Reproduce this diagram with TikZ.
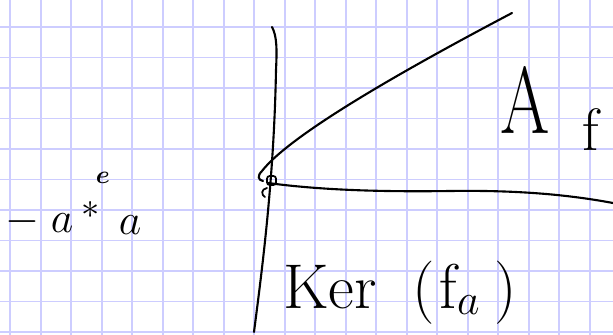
\documentclass[tikz,border=0pt]{standalone}
\usepackage{amsmath}
\usepackage{xcolor}
\usepackage{tikz}
\usetikzlibrary{positioning,calc}

\definecolor{gridblue}{RGB}{205,205,255}

\begin{document}
\begin{tikzpicture}[
    x=0.02cm, y=-0.02cm,
    gridline/.style={draw=gridblue, line width=1pt},
    pen/.style={draw=black, line width=1.2pt, line cap=round, line join=round},
    hand/.style={inner sep=0pt, text=black}
]
\useasboundingbox (0,0) rectangle (613,335);
\fill[white] (0,0) rectangle (613,335);

% Grid paper
\begin{scope}
\clip (0,0) rectangle (613,335);
\foreach \k in {0,...,19}
    \draw[gridline] ({10.3+30.5*\k},0) -- ({10.3+30.5*\k},335);
\foreach \k in {0,...,10}
    \draw[gridline] (0,{27+30.5*\k}) -- (613,{27+30.5*\k});
\end{scope}

% Vertical axis
\draw[pen] (272,27) .. controls (277,36) and (277,50) .. (276,70)
    .. controls (274,180) and (262,270) .. (254,332);

% Upper branch
\draw[pen] (512,13) .. controls (400,72) and (290,135) .. (262,171)
    .. controls (257,176) and (258,180) .. (263,181);

% Lower branch
\draw[pen] (268,183) .. controls (320,190) and (380,192) .. (450,191)
    .. controls (520,190) and (570,195) .. (613,203);

% Marks at the vertex
\draw[pen, line width=1pt, rounded corners=1.5pt] (267,176) rectangle (276,185);
\draw[pen, line width=1pt] (267,188) .. controls (261,189) and (261,195) .. (265,197);

% Labels
\node[hand, anchor=base, font=\fontsize{26}{30}\selectfont] (minus) at (22,232) {$-$};
\node[hand, anchor=base, font=\fontsize{26}{30}\selectfont] (aleft) at (62,232) {$a$};
\node[hand, font=\fontsize{20}{24}\selectfont] (star) at (91,210) {$*$};
\node[hand, anchor=base, font=\fontsize{15}{18}\selectfont] (edot) at (103,183) {$\boldsymbol{e}$};
\node[hand, anchor=base, font=\fontsize{26}{30}\selectfont] (aright) at (130,234) {$a$};

\node[hand, anchor=base, font=\fontsize{54}{60}\selectfont] (A) at (525,133) {\scalebox{0.75}[1]{A}};
\node[hand, anchor=base, font=\fontsize{34}{40}\selectfont] (f) at (591,150) {f};

\node[hand, anchor=base west, font=\fontsize{36}{40}\selectfont] (ker) at (283,308)
    {Ker\hspace{20pt}(\hspace{3pt}f$_{a}$\hspace{8pt})};
\end{tikzpicture}
\end{document}
